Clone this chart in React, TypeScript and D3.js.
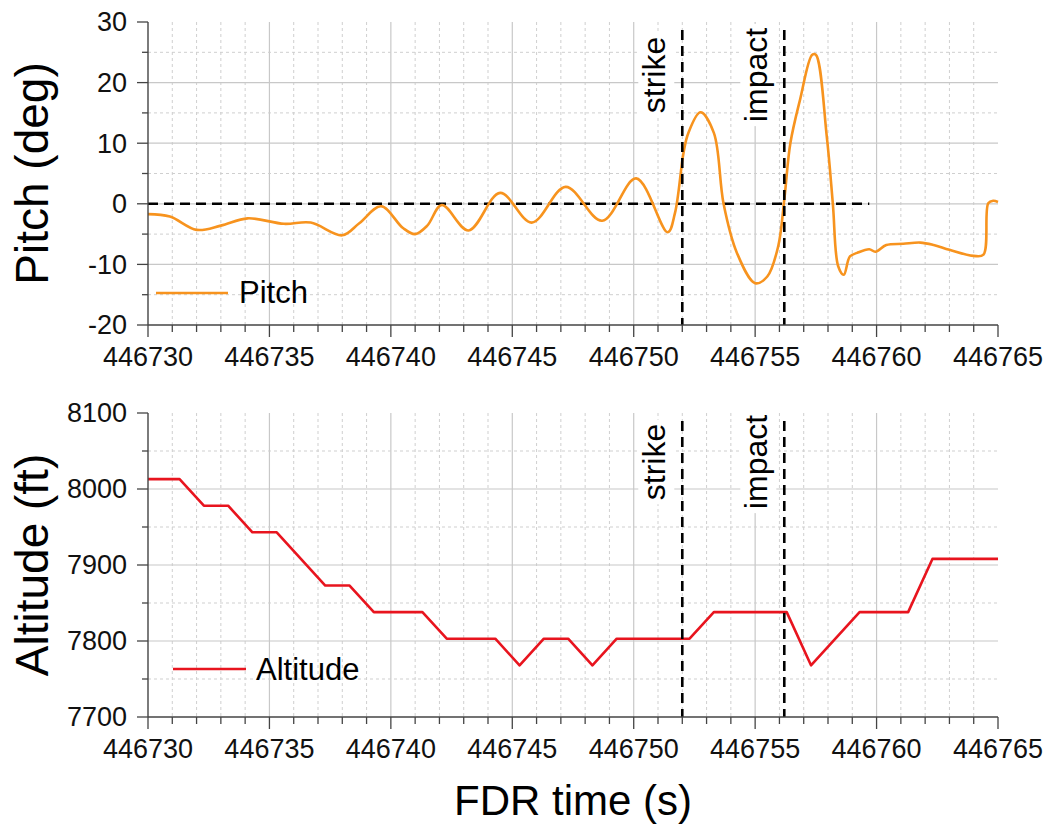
import React from "react";
import * as d3 from "d3";

// ---------- DATA ----------
const xDomain: [number, number] = [446730, 446765];
const xTicks: number[] = d3.range(446730, 446766, 1);
const xMajorTicks: number[] = [446730, 446735, 446740, 446745, 446750, 446755, 446760, 446765];

const pitchTicks: number[] = [-20, -15, -10, -5, 0, 5, 10, 15, 20, 25, 30];
const pitchMajor: number[] = [-20, -10, 0, 10, 20, 30];
const altTicks: number[] = [7700, 7750, 7800, 7850, 7900, 7950, 8000, 8050, 8100];
const altMajor: number[] = [7700, 7800, 7900, 8000, 8100];

const pitchTime: number[] = [
  446730.0, 446730.9, 446732.0, 446733.0, 446734.1, 446735.6, 446736.7, 446738.0,
  446738.7, 446739.6, 446740.5, 446741.0, 446741.5, 446742.1, 446743.2, 446744.5,
  446745.8, 446747.2, 446748.7, 446750.1, 446751.4, 446751.7, 446752.05, 446752.25,
  446752.75, 446753.3, 446753.7, 446754.25, 446755.0, 446755.5, 446755.95, 446756.2,
  446756.45, 446756.85, 446757.35, 446757.5, 446757.95, 446758.2, 446758.42, 446758.65,
  446758.9, 446759.2, 446759.7, 446759.95, 446760.4, 446761.1, 446761.8, 446762.35,
  446763.0, 446764.0, 446764.4, 446764.6, 446764.8, 446765.0,
];
const pitchValue: number[] = [
  -1.7, -2.1, -4.3, -3.6, -2.4, -3.3, -3.1, -5.2,
  -3.2, -0.4, -4.0, -5.0, -3.6, -0.2, -4.4, 1.8,
  -3.1, 2.8, -2.8, 4.2, -4.7, -1.5, 8.4, 11.7,
  15.1, 11.7, 0.0, -8.1, -13.1, -12.0, -7.0, 0.7,
  10.0, 17.2, 24.6, 24.6, 11.1, 0.0, -10.3, -11.7,
  -8.7, -8.1, -7.5, -7.9, -6.8, -6.6, -6.4, -6.8,
  -7.6, -8.6, -8.4, 0.1, 0.5, 0.3,
];

const altTime: number[] = [
  446730.0, 446731.3, 446732.3, 446733.3, 446734.3, 446735.3, 446737.3, 446738.3,
  446739.3, 446741.3, 446742.3, 446744.3, 446745.3, 446746.3, 446747.3, 446748.3,
  446749.3, 446752.3, 446753.3, 446756.3, 446757.3, 446759.3, 446761.3, 446762.3,
  446765.0,
];
const altValue: number[] = [
  8013, 8013, 7978, 7978, 7943, 7943, 7873, 7873,
  7838, 7838, 7803, 7803, 7768, 7803, 7803, 7768,
  7803, 7803, 7838, 7838, 7768, 7838, 7838, 7908,
  7908,
];

const events: { label: string; time: number }[] = [
  { label: "strike", time: 446752.0 },
  { label: "impact", time: 446756.2 },
];
const zeroLineEnd = 446759.7;

// ---------- STYLE ----------
const FONT = "'Liberation Sans', Arial, sans-serif";
const ORANGE = "#f7931e";
const RED = "#e8141e";
const MAJOR_GRID = "#c8c8c8";
const MINOR_GRID = "#cfcfcf";
const AXIS = "#444";

const emW: Record<string, number> = {
  s: 0.5, t: 0.278, r: 0.333, i: 0.222, k: 0.5, e: 0.556, m: 0.833, p: 0.556, a: 0.556, c: 0.5,
};
const textLen = (s: string, fs: number) =>
  s.split("").reduce((acc, ch) => acc + (emW[ch] ?? 0.55), 0) * fs;

type PanelProps = {
  top: number;
  bottom: number;
  yDomain: [number, number];
  yTicks: number[];
  yMajor: number[];
  title: string;
  labelCenterY: number;
  children: (y: d3.ScaleLinear<number, number>) => React.ReactNode;
};

const x = d3.scaleLinear().domain(xDomain).range([148, 998]);
const left = 148;
const right = 998;

function Panel({ top, bottom, yDomain, yTicks, yMajor, title, labelCenterY, children }: PanelProps) {
  const y = d3.scaleLinear().domain(yDomain).range([bottom, top]);
  const isMajorX = (t: number) => xMajorTicks.includes(t);
  const isMajorY = (v: number) => yMajor.includes(v);
  const labelFs = 32;
  return (
    <g>
      {/* grid */}
      {xTicks
        .filter((t) => t !== xDomain[0] && t !== xDomain[1])
        .map((t) => (
          <line
            key={"gx" + t}
            x1={x(t)}
            x2={x(t)}
            y1={top}
            y2={bottom}
            stroke={isMajorX(t) ? MAJOR_GRID : MINOR_GRID}
            strokeWidth={isMajorX(t) ? 1.2 : 1}
            strokeDasharray={isMajorX(t) ? undefined : "3,3"}
          />
        ))}
      {yTicks
        .filter((v) => v !== yDomain[0] && v !== yDomain[1])
        .map((v) => (
          <line
            key={"gy" + v}
            x1={left}
            x2={right}
            y1={y(v)}
            y2={y(v)}
            stroke={isMajorY(v) ? MAJOR_GRID : MINOR_GRID}
            strokeWidth={isMajorY(v) ? 1.2 : 1}
            strokeDasharray={isMajorY(v) ? undefined : "3,3"}
          />
        ))}
      {/* label backgrounds */}
      {events.map((ev) => {
        const bx = x(ev.time) - 17;
        const len = textLen(ev.label, labelFs);
        return (
          <rect
            key={"bg" + ev.label}
            x={bx - 27}
            y={labelCenterY - len / 2 - 4}
            width={36}
            height={len + 8}
            fill="#fff"
          />
        );
      })}
      {children(y)}
      {/* event lines */}
      {events.map((ev) => (
        <line
          key={"ev" + ev.label}
          x1={x(ev.time)}
          x2={x(ev.time)}
          y1={top + 8}
          y2={bottom}
          stroke="#000"
          strokeWidth={2.6}
          strokeDasharray="10,6"
        />
      ))}
      {events.map((ev) => {
        const bx = x(ev.time) - 17;
        return (
          <text
            key={"lb" + ev.label}
            transform={`translate(${bx},${labelCenterY}) rotate(-90)`}
            textAnchor="middle"
            fontFamily={FONT}
            fontSize={labelFs}
            fill="#000"
          >
            {ev.label}
          </text>
        );
      })}
      {/* axes */}
      <line x1={left} x2={right} y1={bottom} y2={bottom} stroke={AXIS} strokeWidth={1.4} />
      <line x1={left} x2={left} y1={top} y2={bottom} stroke={AXIS} strokeWidth={1.4} />
      {xTicks.map((t) => (
        <line
          key={"tx" + t}
          x1={x(t)}
          x2={x(t)}
          y1={bottom}
          y2={bottom + (isMajorX(t) ? 12 : 7)}
          stroke={AXIS}
          strokeWidth={1.3}
        />
      ))}
      {xMajorTicks.map((t) => (
        <text
          key={"lx" + t}
          x={x(t)}
          y={bottom + 41}
          textAnchor="middle"
          fontFamily={FONT}
          fontSize={27}
          fill="#111"
        >
          {t}
        </text>
      ))}
      {yTicks.map((v) => (
        <line
          key={"ty" + v}
          x1={left - (isMajorY(v) ? 11 : 6)}
          x2={left}
          y1={y(v)}
          y2={y(v)}
          stroke={AXIS}
          strokeWidth={1.3}
        />
      ))}
      {yMajor.map((v) => (
        <text
          key={"ly" + v}
          x={127}
          y={y(v)}
          dy="0.35em"
          textAnchor="end"
          fontFamily={FONT}
          fontSize={27}
          fill="#111"
        >
          {v}
        </text>
      ))}
      <text
        transform={`translate(48,${(top + bottom) / 2}) rotate(-90)`}
        textAnchor="middle"
        fontFamily={FONT}
        fontSize={46}
        fill="#000"
      >
        {title}
      </text>
    </g>
  );
}

export default function App() {
  const pitchLine = (y: d3.ScaleLinear<number, number>) =>
    d3
      .line<number>()
      .x((_, i) => x(pitchTime[i]))
      .y((d) => y(d))
      .curve(d3.curveCatmullRom.alpha(0.5))(pitchValue) as string;
  const altLine = (y: d3.ScaleLinear<number, number>) =>
    d3
      .line<number>()
      .x((_, i) => x(altTime[i]))
      .y((d) => y(d))
      .curve(d3.curveLinear)(altValue) as string;

  return (
    <svg
      width={1046}
      height={830}
      style={{ position: "absolute", left: 0, top: 0, background: "#fff" }}
    >
      <rect x={0} y={0} width={1046} height={830} fill="#fff" />
      <Panel
        top={22}
        bottom={325}
        yDomain={[-20, 30]}
        yTicks={pitchTicks}
        yMajor={pitchMajor}
        title="Pitch (deg)"
        labelCenterY={75}
      >
        {(y) => (
          <g>
            <line
              x1={left}
              x2={x(zeroLineEnd)}
              y1={y(0)}
              y2={y(0)}
              stroke="#000"
              strokeWidth={2.6}
              strokeDasharray="10,6"
            />
            <path d={pitchLine(y)} fill="none" stroke={ORANGE} strokeWidth={2.6} strokeLinejoin="round" />
            <line x1={156} x2={228} y1={293} y2={293} stroke={ORANGE} strokeWidth={2.6} />
            <text x={239} y={303} fontFamily={FONT} fontSize={31} fill="#000">
              Pitch
            </text>
          </g>
        )}
      </Panel>
      <Panel
        top={413}
        bottom={717}
        yDomain={[7700, 8100]}
        yTicks={altTicks}
        yMajor={altMajor}
        title="Altitude (ft)"
        labelCenterY={462}
      >
        {(y) => (
          <g>
            <path d={altLine(y)} fill="none" stroke={RED} strokeWidth={2.6} strokeLinejoin="round" />
            <line x1={173} x2={246} y1={669} y2={669} stroke={RED} strokeWidth={2.6} />
            <text x={256} y={680} fontFamily={FONT} fontSize={31} fill="#000">
              Altitude
            </text>
          </g>
        )}
      </Panel>
      <text
        x={(left + right) / 2}
        y={815}
        textAnchor="middle"
        fontFamily={FONT}
        fontSize={42}
        fill="#000"
      >
        FDR time (s)
      </text>
    </svg>
  );
}
